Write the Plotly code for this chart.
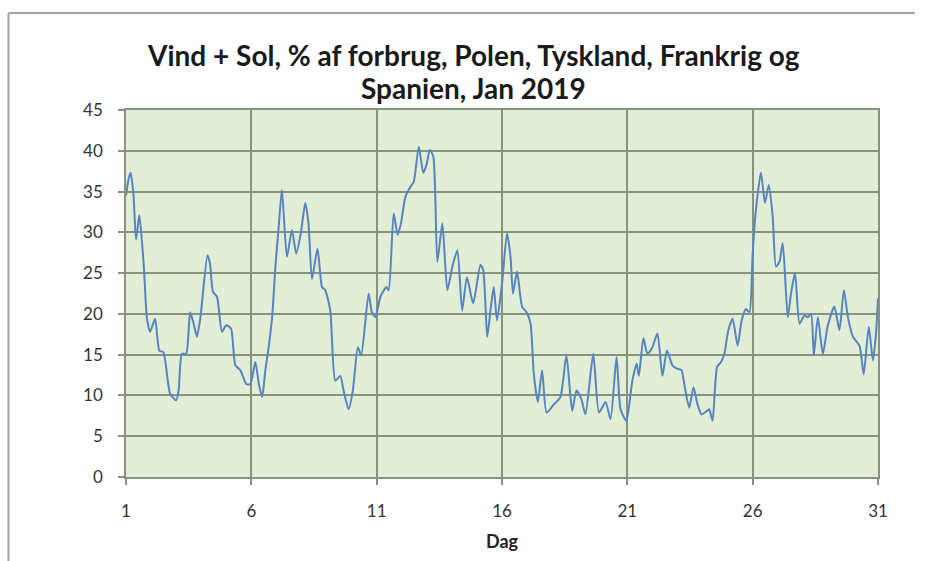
import plotly.graph_objects as go

# Share of wind + solar in consumption, January 2019 (day of month, %)
days = [
    1.0, 1.1, 1.19, 1.3, 1.4, 1.53, 1.62, 1.72, 1.83, 1.96, 2.16, 2.33, 2.49, 2.76, 3.0, 3.1,
    3.23, 3.4, 3.56, 3.7, 3.83, 3.97, 4.25, 4.35, 4.47, 4.63, 4.83, 5.0, 5.19, 5.36, 5.56, 5.8,
    5.96, 6.16, 6.3, 6.43, 6.56, 6.69, 6.83, 6.96, 7.1, 7.22, 7.42, 7.62, 7.79, 7.98, 8.15, 8.28,
    8.42, 8.64, 8.82, 8.95, 9.15, 9.35, 9.55, 9.68, 9.88, 10.05, 10.25, 10.38, 10.68, 10.81, 10.95,
    11.15, 11.39, 11.48, 11.68, 11.84, 11.97, 12.15, 12.35, 12.48, 12.68, 12.86, 12.99, 13.12,
    13.26, 13.42, 13.62, 13.82, 14.02, 14.22, 14.41, 14.6, 14.85, 15.14, 15.25, 15.41, 15.54,
    15.67, 15.8, 16.0, 16.2, 16.34, 16.44, 16.6, 16.8, 16.98, 17.14, 17.27, 17.43, 17.6, 17.78,
    18.07, 18.33, 18.57, 18.8, 18.97, 19.16, 19.33, 19.64, 19.87, 20.13, 20.33, 20.57, 20.73,
    20.96, 21.2, 21.37, 21.46, 21.64, 21.8, 22.0, 22.2, 22.4, 22.58, 22.8, 22.98, 23.16, 23.27,
    23.47, 23.64, 23.8, 23.96, 24.18, 24.27, 24.4, 24.58, 24.74, 24.87, 25.03, 25.2, 25.4, 25.56,
    25.73, 25.87, 26.0, 26.13, 26.33, 26.49, 26.64, 26.8, 26.93, 27.07, 27.2, 27.4, 27.53, 27.69,
    27.87, 28.06, 28.2, 28.33, 28.44, 28.6, 28.8, 29.0, 29.26, 29.46, 29.64, 29.8, 30.0, 30.26,
    30.43, 30.63, 30.8, 30.93, 31.0,
]
share_pct = [
    34.5, 36.5, 37.3, 34.5, 29.1, 32.1, 29.5, 25.4, 19.6, 17.8, 19.4, 15.5, 15.3, 10.2, 9.4, 10.6,
    15.1, 15.1, 20.2, 18.8, 17.2, 19.6, 27.2, 26.2, 22.7, 22.1, 17.8, 18.6, 18.2, 13.7, 13.1, 11.4,
    11.4, 14.1, 11.4, 9.8, 13.1, 15.9, 19.6, 25.8, 31.0, 35.2, 27.0, 30.3, 27.4, 30.0, 33.6, 31.1,
    24.3, 28.0, 23.3, 22.9, 20.4, 11.8, 12.4, 10.6, 8.3, 10.6, 15.9, 14.9, 22.5, 20.2, 19.6,
    22.1, 23.3, 22.9, 32.3, 29.7, 31.1, 34.4, 35.6, 36.2, 40.5, 37.3, 38.3, 40.1,
    39.3, 26.4, 31.1, 22.9, 25.8, 27.8, 20.4, 24.5, 21.3, 26.0, 25.4, 17.2, 20.4,
    23.3, 19.2, 23.7, 29.9, 27.0, 22.5, 25.2, 20.9, 20.2, 18.8, 12.6, 9.2, 13.1, 7.9,
    8.9, 9.8, 14.9, 8.1, 10.6, 9.6, 7.7, 15.1, 7.9, 9.2, 7.1, 14.7, 8.3,
    6.9, 11.8, 13.9, 12.4, 17.0, 15.1, 15.9, 17.6, 12.4, 15.5, 13.7, 13.3, 13.1, 11.4,
    8.5, 11.0, 8.9, 7.7, 8.1, 8.3, 6.9, 13.5, 14.1, 15.1, 18.0, 19.4, 16.1, 19.2,
    20.6, 20.2, 27.4, 32.8, 37.3, 33.6, 35.8, 31.9, 25.8, 26.4, 28.7, 19.6, 22.5, 25.0,
    18.8, 19.8, 19.6, 20.0, 14.9, 19.6, 15.1, 18.6, 20.9, 18.0, 22.9, 19.6, 17.2, 16.1,
    12.6, 18.4, 14.3, 18.0, 21.9,
]

x_ticks = [1, 6, 11, 16, 21, 26, 31]
y_ticks = [0, 5, 10, 15, 20, 25, 30, 35, 40, 45]

title_lines = ["Vind + Sol, % af forbrug, Polen, Tyskland, Frankrig og", "Spanien, Jan 2019"]
x_title = "Dag"

W, H = 925, 561
M_L, M_R, M_T, M_B = 126, 47, 110, 84
PW, PH = W - M_L - M_R, H - M_T - M_B

grid_col = "#87927f"
font_family = "Lato, 'Open Sans', sans-serif"

fig = go.Figure()
fig.add_trace(go.Scatter(
    x=days, y=share_pct, mode="lines",
    line=dict(color="#5585c2", width=2, shape="spline", smoothing=0.6),
    showlegend=False, hoverinfo="skip",
))

axis_common = dict(
    showgrid=True, gridcolor=grid_col, gridwidth=1.5,
    showline=True, linecolor=grid_col, linewidth=1.5, mirror=True,
    ticks="outside", ticklen=6, tickcolor=grid_col, tickwidth=1.5,
    tickfont=dict(family=font_family, size=17, color="#333333"),
    zeroline=False, ticklabelstandoff=12,
)

fig.update_xaxes(range=[1, 31], tickvals=x_ticks, **axis_common,
                 title=dict(text=f"<b>{x_title}</b>", standoff=15,
                            font=dict(family=font_family, size=18, color="#222222")))
fig.update_yaxes(range=[0, 45], tickvals=y_ticks, **axis_common)


def px_x(px):
    return (px - M_L) / PW


def px_y(py):
    return (H - M_B - py) / PH


# Chart frame (left and top edges)
frame = dict(type="line", xref="paper", yref="paper", line=dict(color="#a3a3a3", width=2), layer="above")
fig.add_shape(**frame, x0=px_x(8.5), x1=px_x(8.5), y0=px_y(H + 2), y1=px_y(13))
fig.add_shape(**frame, x0=px_x(8.5), x1=px_x(915), y0=px_y(13), y1=px_y(13))

# Two-line bold title
for text, cy in zip(title_lines, [55, 88]):
    fig.add_annotation(text=f"<b>{text}</b>", xref="paper", yref="paper",
                       x=px_x(473), y=px_y(cy), xanchor="center", yanchor="middle",
                       showarrow=False, font=dict(family=font_family, size=28, color="#1a1a1a"))

fig.update_layout(
    width=W, height=H,
    margin=dict(l=M_L, r=M_R, t=M_T, b=M_B),
    paper_bgcolor="white", plot_bgcolor="#e3eed6",
)

fig.write_html("out.html")
